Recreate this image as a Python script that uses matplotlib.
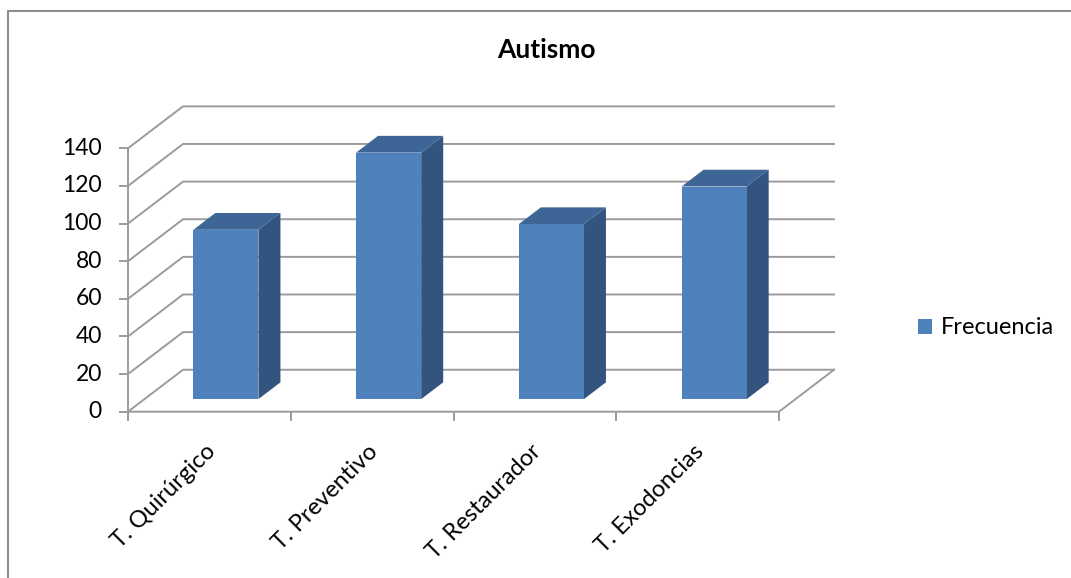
import matplotlib
matplotlib.use('Agg')
import matplotlib.pyplot as plt
from matplotlib.patches import Polygon, Patch
from matplotlib.lines import Line2D

plt.rcParams['font.family'] = ['Lato', 'DejaVu Sans']

# data
categorias = ['T. Quirúrgico', 'T. Preventivo', 'T. Restaurador', 'T. Exodoncias']
frecuencia = [90, 131, 93, 113]
y_ticks = [0, 20, 40, 60, 80, 100, 120, 140]
serie = 'Frecuencia'
titulo = 'Autismo'

# oblique 3D look: depth offset in data units
DX, DY = 0.338, 22.3
BAR_W = 0.4
F0, F1 = 0.3, 0.7          # front / back of bars along depth

grid_c = '#9b9b9b'
front_c = '#4f81bd'
top_c = '#3d6595'
side_c = '#33547e'

W, H = 1071, 578
fig = plt.figure(figsize=(W / 100, H / 100), dpi=100)
ax = fig.add_axes([0, 0, 1, 1])
ax.set_xlim(-128 / 162.75, (W - 128) / 162.75)
ax.set_ylim(-(H - 411.7) / 1.8814, 411.7 / 1.8814)
ax.axis('off')

def p(x, y, d):
    return (x + d * DX, y + d * DY)

n = len(categorias)
ymax = y_ticks[-1]

# walls: gridlines on back wall + diagonals on side wall
for v in y_ticks:
    ax.plot([0, DX, n + DX], [v, v + DY, v + DY], color=grid_c, lw=1.4, zorder=1)
# floor
ax.plot([0, n, n + DX], [0, 0, DY], color=grid_c, lw=1.4, zorder=1)
# vertical axis line
ax.plot([0, 0], [0, ymax], color=grid_c, lw=1.4, zorder=1)

# y ticks and labels
for v in y_ticks:
    ax.plot([-0.05, 0], [v, v], color=grid_c, lw=1.4, zorder=1)
    ax.text(-0.16, v, str(v), ha='right', va='center', fontsize=16.5, color='black')

# category ticks and labels
for i in range(n + 1):
    ax.plot([i, i], [0, -4.5], color=grid_c, lw=1.4, zorder=1)
for i, c in enumerate(categorias):
    ax.text(i + 0.47, -15.5, c, rotation=45, ha='right', va='top',
            rotation_mode='anchor', fontsize=17, color='black')

# bars
for i, v in enumerate(frecuencia):
    x0 = i + 0.5 - BAR_W / 2
    x1 = i + 0.5 + BAR_W / 2
    front = [p(x0, 0, F0), p(x1, 0, F0), p(x1, v, F0), p(x0, v, F0)]
    side = [p(x1, 0, F0), p(x1, 0, F1), p(x1, v, F1), p(x1, v, F0)]
    top = [p(x0, v, F0), p(x1, v, F0), p(x1, v, F1), p(x0, v, F1)]
    ax.add_patch(Polygon(side, closed=True, facecolor=side_c, edgecolor='none', zorder=3))
    ax.add_patch(Polygon(top, closed=True, facecolor=top_c, edgecolor='none', zorder=3))
    ax.add_patch(Polygon(front, closed=True, facecolor=front_c, edgecolor='none', zorder=4))

# title
fig.text(546 / W, 1 - 50 / H, titulo, ha='center', va='center',
         fontsize=19, fontweight='bold', color='black')

# legend
leg = fig.legend(handles=[Patch(facecolor=front_c, edgecolor='none', label=serie)],
                 loc='center left', bbox_to_anchor=(918 / W, 1 - 328 / H),
                 frameon=False, fontsize=17, handlelength=0.6, handleheight=0.6,
                 handletextpad=0.35, borderpad=0, borderaxespad=0)

# chart area border
fig.add_artist(Line2D([7.5 / W, 7.5 / W, 1.0], [0.0, 1 - 10.5 / H, 1 - 10.5 / H],
                      transform=fig.transFigure, color='#8c8c8c', lw=1.5))

fig.savefig('out.png', dpi=100)
